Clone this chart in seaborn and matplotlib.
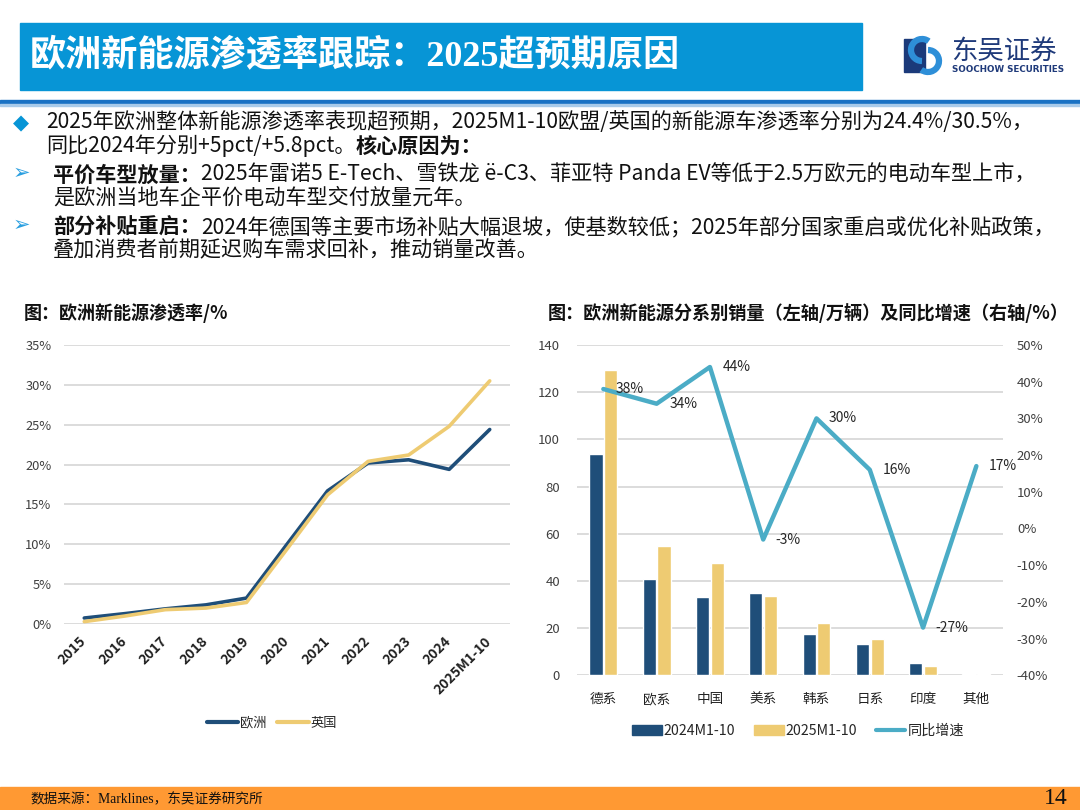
import matplotlib
matplotlib.use("Agg")
import matplotlib.pyplot as plt
import seaborn as sns
import pandas as pd
import numpy as np
from matplotlib.patches import Rectangle, Arc
from matplotlib.lines import Line2D
from matplotlib.ticker import FuncFormatter

# ---------------- data ----------------
years = ["2015", "2016", "2017", "2018", "2019", "2020", "2021", "2022", "2023", "2024", "2025M1-10"]
europe = [0.75, 1.3, 1.9, 2.4, 3.25, 10.0, 16.7, 20.2, 20.6, 19.4, 24.4]
uk = [0.3, 1.0, 1.8, 2.0, 2.7, 9.4, 16.2, 20.4, 21.2, 24.8, 30.5]

groups = ["德系", "欧系", "中国", "美系", "韩系", "日系", "印度", "其他"]
sales_2024 = [93.8, 40.8, 33.0, 34.7, 17.4, 13.3, 5.4, 0.6]
sales_2025 = [129.4, 54.8, 47.5, 33.6, 22.3, 15.3, 3.8, 0.6]
growth = [38, 34, 44, -3, 30, 16, -27, 17]

left_ticks = [0, 5, 10, 15, 20, 25, 30, 35]
bar_ticks = [0, 20, 40, 60, 80, 100, 120, 140]
growth_ticks = [-40, -30, -20, -10, 0, 10, 20, 30, 40, 50]

# ---------------- style ----------------
NAVY = "#1F4E79"
YEL = "#EECB72"
TEAL = "#4BACC6"
GRID = "#D9D9D9"
TXT = "#404040"
BLUE = "#0795D6"

sns.set_theme(style="white")
plt.rcParams["font.family"] = ["Noto Sans CJK SC", "DejaVu Sans"]
plt.rcParams["axes.unicode_minus"] = False

W, H = 1080, 810
fig = plt.figure(figsize=(W / 100, H / 100), dpi=100)
renderer = fig.canvas.get_renderer()


def fx(x):
    return x / W


def fy(y):
    return 1 - y / H


# ---------------- header ----------------
fig.patches.append(Rectangle((fx(20), fy(90)), (862 - 20) / W, 67 / H,
                             transform=fig.transFigure, color=BLUE, zorder=0))
fig.text(fx(30), fy(57), "欧洲新能源渗透率跟踪：2025超预期原因", color="white",
         fontsize=26, fontweight="bold", va="center", ha="left",
         family=["Liberation Serif", "Noto Sans CJK SC"])
fig.patches.append(Rectangle((0, fy(104)), 1, 4 / H, transform=fig.transFigure,
                             color="#1A72C4", zorder=0))
fig.patches.append(Rectangle((0, fy(106)), 1, 2 / H, transform=fig.transFigure,
                             color="#A9CBEA", zorder=0))

# logo
fig.patches.append(Rectangle((fx(904), fy(72)), 21 / W, 33 / H, transform=fig.transFigure,
                             color="#1B3A7A", zorder=1))
fig.patches.append(Arc((fx(922), fy(50)), 22 / W, 22 / H, theta1=60, theta2=270,
                       transform=fig.transFigure, color="#2E8FD8", lw=4.5, zorder=2))
fig.patches.append(Arc((fx(928), fy(61)), 22 / W, 22 / H, theta1=240, theta2=450,
                       transform=fig.transFigure, color="#2E8FD8", lw=4.5, zorder=2))
fig.text(fx(951), fy(51), "东吴证券", color="#1F3A7A", fontsize=19, va="center", ha="left")
fig.text(fx(952), fy(69), "SOOCHOW SECURITIES", color="#1F3A7A", fontsize=6.3,
         fontweight="bold", va="center", ha="left", family=["DejaVu Sans"])


# ---------------- body text ----------------
def runs(x, y, parts, size=15.2, color="#111111"):
    for text, weight in parts:
        t = fig.text(fx(x), fy(y), text, fontsize=size, fontweight=weight, color=color,
                     va="center", ha="left")
        bb = t.get_window_extent(renderer=renderer)
        x = bb.x1
    return x


bullet_fam = ["DejaVu Sans"]
fig.text(fx(13), fy(123), "◆", color=BLUE, fontsize=15, va="center", ha="left", family=bullet_fam)
runs(46, 122, [("2025年欧洲整体新能源渗透率表现超预期，2025M1-10欧盟/英国的新能源车渗透率分别为24.4%/30.5%，", "normal")])
runs(46, 146, [("同比2024年分别+5pct/+5.8pct。", "normal"), ("核心原因为：", "bold")])
fig.text(fx(13), fy(173), "➢", color="#2A9FE0", fontsize=15, va="center", ha="left", family=bullet_fam)
runs(53, 175, [("平价车型放量：", "bold"),
               ("2025年雷诺5 E-Tech、雪铁龙 ë-C3、菲亚特 Panda EV等低于2.5万欧元的电动车型上市，", "normal")])
runs(53, 198, [("是欧洲当地车企平价电动车型交付放量元年。", "normal")])
fig.text(fx(13), fy(225), "➢", color="#2A9FE0", fontsize=15, va="center", ha="left", family=bullet_fam)
runs(53, 227, [("部分补贴重启：", "bold"),
               ("2024年德国等主要市场补贴大幅退坡，使基数较低；2025年部分国家重启或优化补贴政策，", "normal")])
runs(53, 250, [("叠加消费者前期延迟购车需求回补，推动销量改善。", "normal")])

# subtitles
fig.text(fx(24), fy(313), "图：欧洲新能源渗透率/%", fontsize=13, fontweight="bold",
         va="center", ha="left", color="#111111")
fig.text(fx(548), fy(313), "图：欧洲新能源分系别销量（左轴/万辆）及同比增速（右轴/%）", fontsize=13.1,
         fontweight="bold", va="center", ha="left", color="#111111")

# ---------------- left chart ----------------
ax1 = fig.add_axes([fx(64), fy(624), (510 - 64) / W, (624 - 345) / H])
df1 = pd.DataFrame({
    "idx": list(range(len(years))) * 2,
    "值": europe + uk,
    "地区": ["欧洲"] * len(years) + ["英国"] * len(years),
})
sns.lineplot(data=df1, x="idx", y="值", hue="地区", palette={"欧洲": NAVY, "英国": YEL},
             linewidth=2.6, ax=ax1, legend=False)
ax1.set_xlim(-0.5, len(years) - 0.5)
ax1.set_ylim(0, 35)
ax1.set_yticks(left_ticks)
ax1.yaxis.set_major_formatter(FuncFormatter(lambda v, p: f"{v:.0f}%"))
ax1.set_xticks(range(len(years)))
ax1.set_xticklabels(years, rotation=45, ha="right", va="center", rotation_mode="anchor",
                    fontweight="bold", fontsize=10, color="#222222")
ax1.tick_params(axis="y", labelsize=9.3, labelcolor=TXT, length=0, pad=9)
ax1.tick_params(axis="x", length=0, pad=11)
ax1.grid(axis="y", color=GRID, linewidth=1.3)
ax1.set_axisbelow(True)
for s in ax1.spines.values():
    s.set_visible(False)
ax1.set_xlabel("")
ax1.set_ylabel("")
h1 = [Line2D([0], [0], color=NAVY, lw=3), Line2D([0], [0], color=YEL, lw=3)]
fig.legend(h1, ["欧洲", "英国"], loc="center", bbox_to_anchor=(fx(272), fy(723)), ncol=2,
           frameon=False, fontsize=9.5, handlelength=2.4, handletextpad=0.15, columnspacing=0.8)

# ---------------- right chart ----------------
ax2 = fig.add_axes([fx(576.7), fy(675.3), (1003 - 576.7) / W, (675.3 - 345) / H])
df2 = pd.DataFrame({
    "系别": groups * 2,
    "销量": sales_2024 + sales_2025,
    "期间": ["2024M1-10"] * len(groups) + ["2025M1-10"] * len(groups),
})
sns.barplot(data=df2, x="系别", y="销量", hue="期间", palette=[NAVY, YEL], width=0.55, gap=0.1,
            ax=ax2, legend=False, saturation=1)
ax2.set_ylim(0, 140)
ax2.set_yticks(bar_ticks)
ax2.grid(axis="y", color=GRID, linewidth=1.3)
ax2.set_axisbelow(True)
ax2.tick_params(axis="y", labelsize=9.5, labelcolor=TXT, length=0, pad=12)
ax2.tick_params(axis="x", labelsize=9.8, labelcolor="#222222", length=0, pad=12)
ax2.set_xlabel("")
ax2.set_ylabel("")
for s in ax2.spines.values():
    s.set_visible(False)

ax3 = ax2.twinx()
sns.lineplot(x=np.arange(len(groups)), y=growth, ax=ax3, color=TEAL, linewidth=3.2)
ax3.set_ylim(-40, 50)
ax3.set_yticks(growth_ticks)
ax3.yaxis.set_major_formatter(FuncFormatter(lambda v, p: f"{v:.0f}%"))
ax3.tick_params(axis="y", labelsize=9.5, labelcolor=TXT, length=0, pad=10)
ax3.grid(False)
for s in ax3.spines.values():
    s.set_visible(False)
ax2.set_xlim(-0.5, len(groups) - 0.5)
for i, g in enumerate(growth):
    ax3.annotate(f"{g}%", (i, g), xytext=(9, 0), textcoords="offset points", ha="left",
                 va="center", fontsize=10, color="#262626")

h2 = [Rectangle((0, 0), 1, 1, color=NAVY), Rectangle((0, 0), 1, 1, color=YEL),
      Line2D([0], [0], color=TEAL, lw=3)]
fig.legend(h2, ["2024M1-10", "2025M1-10", "同比增速"], loc="center",
           bbox_to_anchor=(fx(798), fy(731)), ncol=3, frameon=False, fontsize=10.2,
           handlelength=2.1, handleheight=0.8, handletextpad=0.15, columnspacing=1.3)

# ---------------- footer ----------------
fig.patches.append(Rectangle((0, 0), 1, (810 - 787) / H, transform=fig.transFigure,
                             color="#FF9933", zorder=0))
fig.text(fx(30), fy(800), "数据来源：Marklines，东吴证券研究所", fontsize=9.8, va="center",
         ha="left", color="#111111", family=["Liberation Serif", "Noto Sans CJK SC"])
fig.text(fx(1068), fy(799), "14", fontsize=17, va="center", ha="right", color="#111111",
         family=["Liberation Serif"])

fig.savefig("out.png", dpi=100)
